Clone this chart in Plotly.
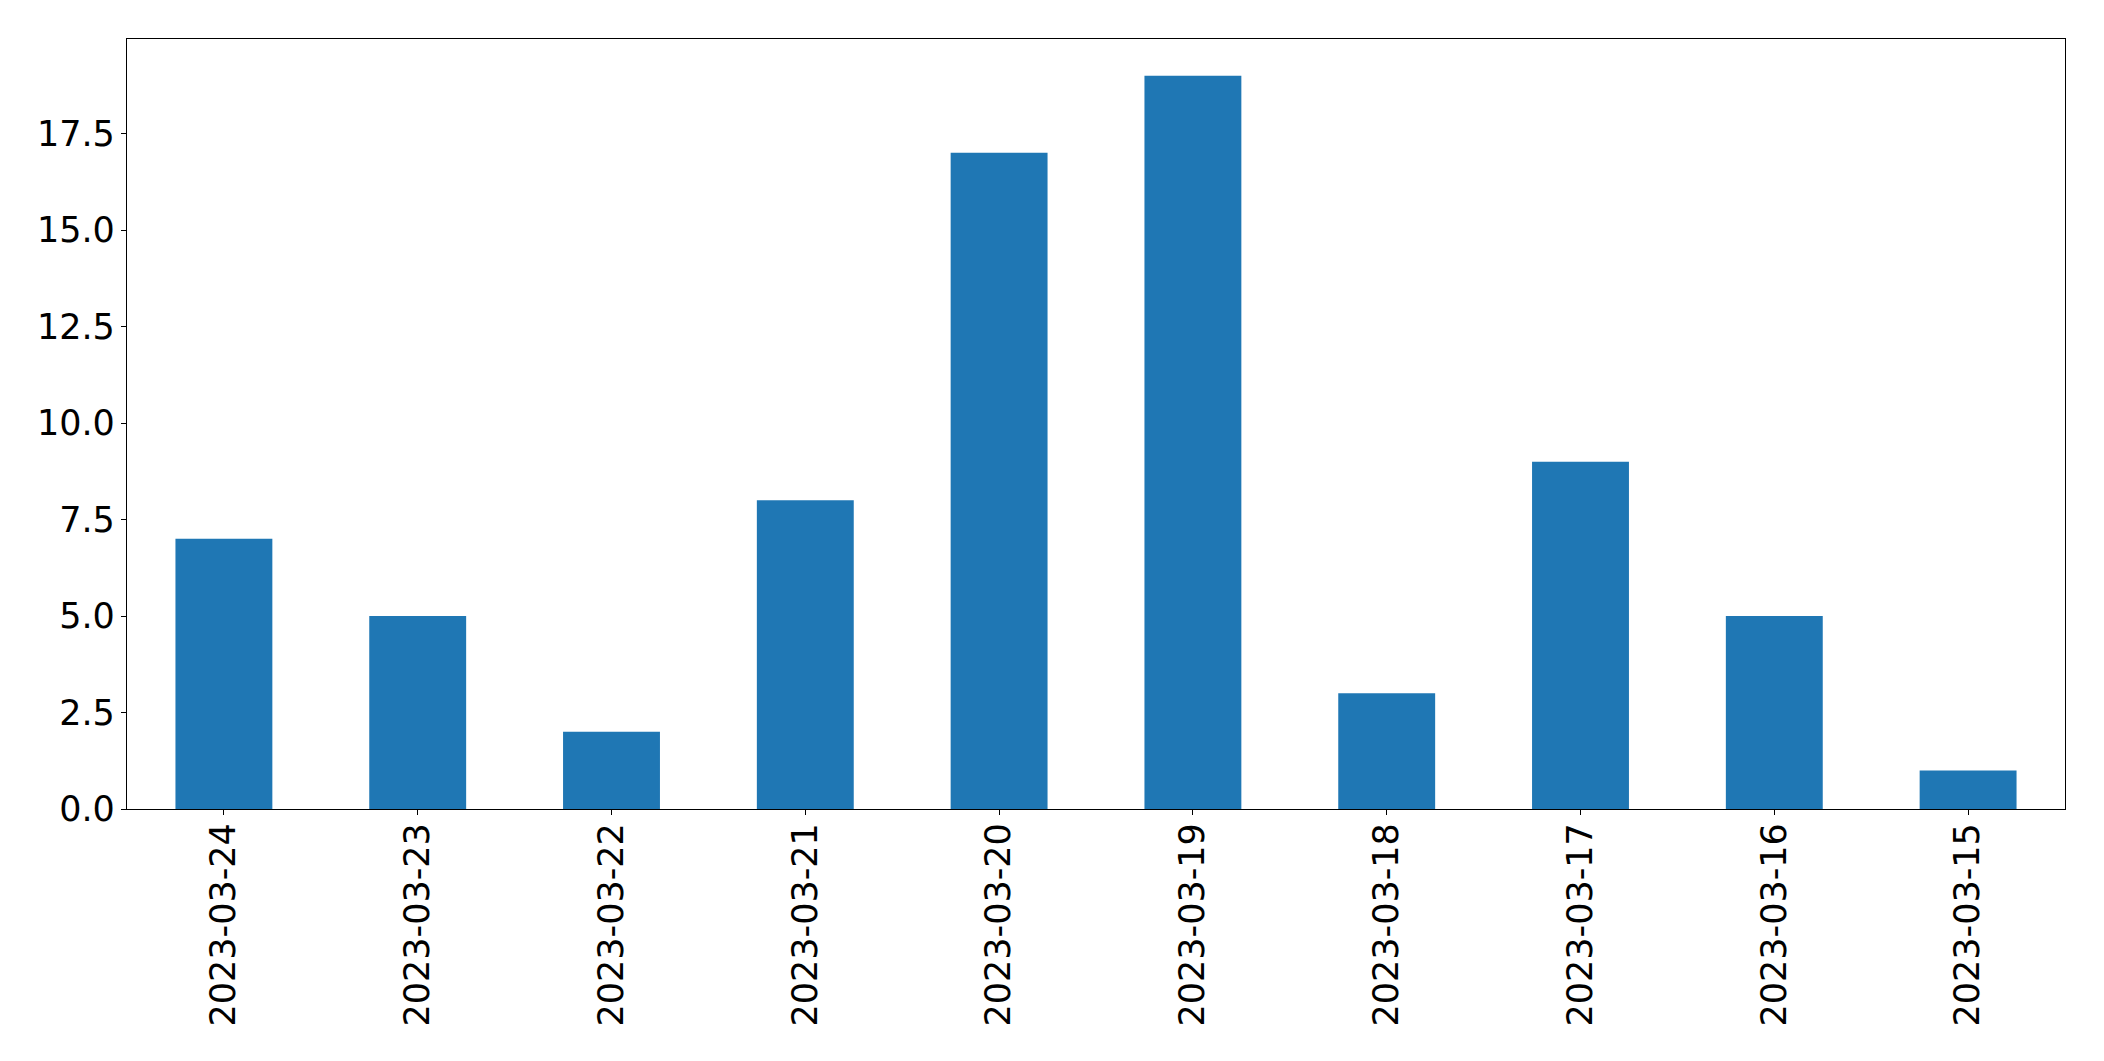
import plotly.graph_objects as go

dates = ["2023-03-24", "2023-03-23", "2023-03-22", "2023-03-21", "2023-03-20",
         "2023-03-19", "2023-03-18", "2023-03-17", "2023-03-16", "2023-03-15"]
counts = [7, 5, 2, 8, 17, 19, 3, 9, 5, 1]
y_ticks = [0, 2.5, 5, 7.5, 10, 12.5, 15, 17.5]

fig = go.Figure(go.Bar(x=dates, y=counts, marker=dict(color="#1f77b4", line=dict(width=0)), width=0.5))

fig.update_layout(
    width=2088, height=1045,
    margin=dict(l=119, r=31, t=31, b=244, pad=0),
    paper_bgcolor="white", plot_bgcolor="white",
    font=dict(family="DejaVu Sans", size=35, color="black"),
    showlegend=False,
)
fig.update_xaxes(
    type="category", range=[-0.5, 9.5], tickangle=-90,
    showline=True, linecolor="black", linewidth=1.3, mirror=True,
    ticks="outside", ticklen=5, tickcolor="black", tickwidth=1.3,
    showgrid=False, zeroline=False, ticklabelstandoff=-6,
)
fig.update_yaxes(
    range=[0, 19.95], tickvals=y_ticks, ticktext=[f"{v:.1f}" for v in y_ticks],
    showline=True, linecolor="black", linewidth=1.3, mirror=True,
    ticks="outside", ticklen=5, tickcolor="black", tickwidth=1.3,
    showgrid=False, zeroline=False, ticklabelstandoff=-1,
)

fig.write_html("out.html", config={"displayModeBar": False})
